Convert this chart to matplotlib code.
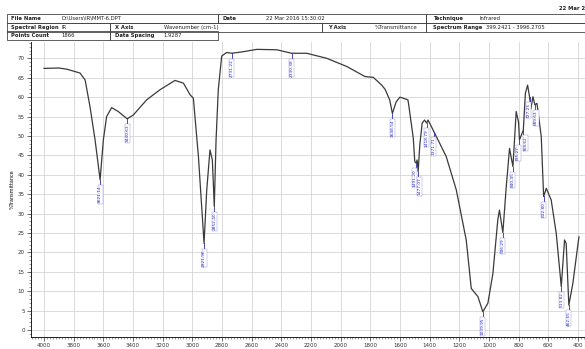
import numpy as np
import matplotlib.pyplot as plt
from matplotlib.ticker import MultipleLocator

# spectrum (wavenumber cm-1, %T)
wavenumber = [4000, 3900, 3847, 3757, 3723, 3690, 3656, 3622, 3600, 3578,
              3544, 3500, 3439, 3398, 3308, 3218, 3117, 3060, 3015, 2993,
              2959, 2937, 2921, 2903, 2881, 2865, 2852, 2840, 2825, 2802,
              2768, 2734, 2656, 2566, 2431, 2330, 2229, 2094, 1959, 1836,
              1780, 1723, 1700, 1669, 1651, 1625, 1600, 1546, 1539, 1510,
              1500, 1491, 1484, 1477, 1466, 1450, 1434, 1420, 1411, 1393,
              1371, 1337, 1288, 1220, 1153, 1119, 1074, 1041, 1007, 973,
              940, 929, 906, 883, 861, 838, 816, 800, 794, 768,
              754, 739, 726, 717, 703, 690, 676, 647, 631, 613,
              580, 546, 512, 490, 479, 461, 434, 393]
transmittance = [67.4, 67.5, 67.2, 66.2, 64.4, 57.5, 49.0, 38.7, 49.0, 55.0,
                 57.3, 56.3, 54.4, 55.4, 59.3, 61.9, 64.3, 63.6, 60.6, 59.7,
                 44.7, 31.8, 22.3, 36.0, 46.4, 43.8, 31.8, 49.0, 61.9, 70.6,
                 71.5, 71.3, 71.7, 72.3, 72.2, 71.3, 71.3, 70.0, 67.9, 65.3,
                 65.1, 63.1, 62.0, 59.3, 55.8, 58.8, 60.0, 59.3, 57.5, 49.4,
                 43.4, 43.0, 43.8, 40.8, 47.7, 53.3, 54.1, 53.3, 54.1, 52.8,
                 51.1, 48.5, 44.7, 36.1, 23.2, 10.7, 8.6, 4.7, 6.9, 14.6,
                 28.4, 30.9, 25.1, 36.9, 46.8, 42.1, 56.3, 53.5, 49.0, 51.5,
                 61.0, 63.1, 60.1, 57.0, 60.1, 58.0, 58.4, 49.8, 34.4, 36.5,
                 33.5, 24.9, 11.2, 23.2, 22.3, 6.4, 12.0, 24.0]

# picked peaks: wavenumber of the traced point and its label text
peak_wn = [3622, 3439, 2921, 2852, 2734, 2330, 1651, 1491, 1477, 1420,
           1371, 1041, 906, 838, 794, 768, 726, 690, 631, 512, 461]
peak_text = ["3621.14", "3440.63", "2921.96", "2852.40", "2731.22",
             "2330.38", "1648.54", "1491.20", "1477.07", "1418.79",
             "1371.71", "1039.95", "906.29", "840.45", "795.27", "768.62",
             "727.25", "689.63", "632.80", "513.82", "462.65"]
# sideways nudge (points) for labels that would collide
label_shift = {1491: -1.3, 1477: 1.3, 794: -1.0, 768: 1.8, 726: -0.5, 690: 0.8}

xticks = np.arange(4000, 399, -200)
yticks = np.arange(0, 71, 5)

header_rows = [
    [("File Name", "D:\\Users\\IR\\MMT-6.DPT", 0.012, 0.105),
     ("Date", "22 Mar 2016 15:30:02", 0.375, 0.455),
     ("Technique", "Infrared", 0.735, 0.82)],
    [("Spectral Region", "IR", 0.012, 0.105),
     ("X Axis", "Wavenumber (cm-1)", 0.19, 0.28),
     ("Y Axis", "%Transmittance", 0.555, 0.64),
     ("Spectrum Range", "399.2421 - 3996.2705", 0.735, 0.83)],
    [("Points Count", "1866", 0.012, 0.105),
     ("Data Spacing", "1.9287", 0.19, 0.28)],
]
row_bounds = [[0.012, 0.373, 0.728, 1.0],
              [0.012, 0.188, 0.550, 0.728, 1.0],
              [0.012, 0.188, 0.373]]

fig = plt.figure(figsize=(5.85, 3.49), dpi=100)
ax = fig.add_axes([31 / 585, 12 / 349, 1 - 31 / 585, 295 / 349])

ax.plot(wavenumber, transmittance, color="#3a3a3a", lw=0.9, zorder=3)

wn_arr = np.array(wavenumber)
tr_arr = np.array(transmittance)
for wn, txt in zip(peak_wn, peak_text):
    t = tr_arr[np.argmin(np.abs(wn_arr - wn))]
    ax.plot([wn, wn], [t, t - 1.3], color="#2b2bb0", lw=0.6, zorder=4)
    ax.annotate(txt, xy=(wn, t - 1.5), xytext=(label_shift.get(wn, 0), 0),
                textcoords="offset points", rotation=90, ha="center", va="top",
                fontsize=3.1, color="#3030c0", zorder=5,
                bbox=dict(boxstyle="square,pad=0.12", fc="white", ec="#9090d8", lw=0.3))

ax.set_xlim(4088, 352)
ax.set_ylim(-1.8, 74.2)
ax.set_xticks(xticks)
ax.set_yticks(yticks)
ax.xaxis.set_minor_locator(MultipleLocator(20))
ax.yaxis.set_minor_locator(MultipleLocator(1))
ax.tick_params(axis="both", which="major", labelsize=4, length=3, width=0.5, pad=1.5,
               colors="#333333")
ax.tick_params(axis="both", which="minor", length=1.5, width=0.4, colors="#555555")
ax.grid(True, which="major", color="#d4d4d4", lw=0.6)
for side in ["top", "right"]:
    ax.spines[side].set_visible(False)
ax.spines["left"].set_linewidth(0.6)
ax.spines["bottom"].set_linewidth(0.6)
ax.set_ylabel("%Transmittance", fontsize=3.5, labelpad=2)

# header table above the plot
row_top = [1 - 14 / 349, 1 - 23 / 349, 1 - 31 / 349]
row_h = 8.5 / 349
for r, (cells, bounds) in enumerate(zip(header_rows, row_bounds)):
    y0 = row_top[r] - row_h
    for left, right in zip(bounds[:-1], bounds[1:]):
        fig.add_artist(plt.Rectangle((left, y0), right - left, row_h, fill=False,
                                     ec="#444444", lw=0.6, transform=fig.transFigure))
    for name, value, xn, xv in cells:
        fig.text(xn + 0.006, y0 + row_h / 2, name, fontsize=3.8, fontweight="bold",
                 va="center", color="#222222")
        fig.text(xv, y0 + row_h / 2, value, fontsize=3.8, va="center", color="#222222")

# printout date in the corner, cut by the page edge as in the scan
fig.text(0.955, 1 - 9 / 349, "22 Mar 2016", fontsize=3.8, fontweight="bold",
         va="center", color="#222222")

fig.savefig("out.png", dpi=100)
